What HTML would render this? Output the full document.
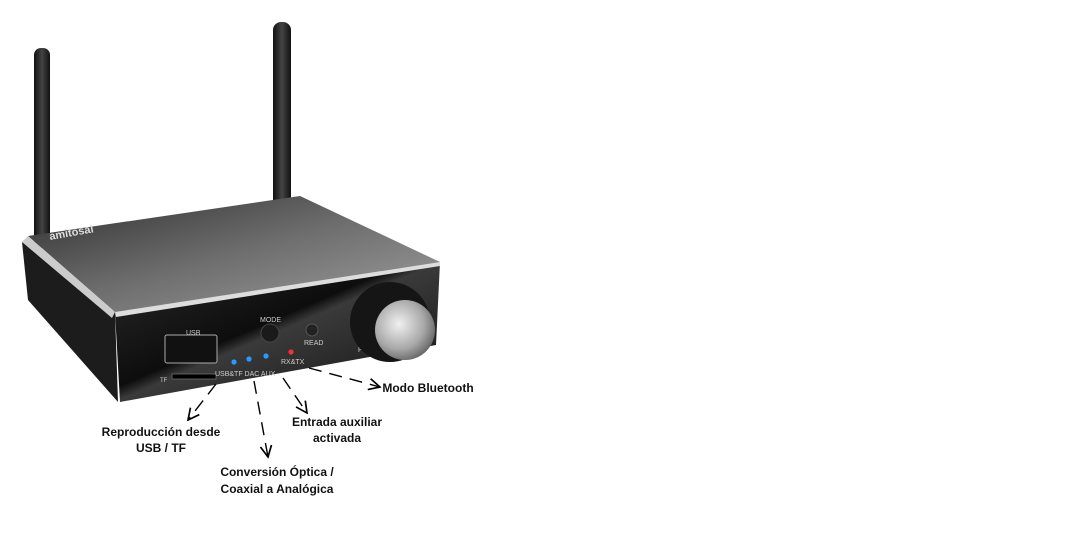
<!DOCTYPE html>
<html><head><meta charset="utf-8"><style>
html,body{margin:0;padding:0;background:#fff;width:1080px;height:540px;overflow:hidden}
svg{position:absolute;left:0;top:0}
text{font-family:"Liberation Sans",sans-serif}
</style></head><body>
<svg width="1080" height="540" viewBox="0 0 1080 540">
<defs>
<linearGradient id="top" x1="0" y1="0" x2="1" y2="1">
<stop offset="0" stop-color="#2e2e2e"/><stop offset="0.5" stop-color="#6e6e6e"/><stop offset="1" stop-color="#a0a0a0"/></linearGradient>
<linearGradient id="front" x1="0" y1="0" x2="1" y2="1">
<stop offset="0" stop-color="#2a2a2a"/><stop offset="0.45" stop-color="#0d0d0d"/><stop offset="0.5" stop-color="#3a3a3a"/><stop offset="1" stop-color="#111"/></linearGradient>
<linearGradient id="ant" x1="0" y1="0" x2="1" y2="0">
<stop offset="0" stop-color="#111"/><stop offset="0.5" stop-color="#444"/><stop offset="1" stop-color="#111"/></linearGradient>
<radialGradient id="knob" cx="0.4" cy="0.4" r="0.7">
<stop offset="0" stop-color="#f0f0f0"/><stop offset="0.6" stop-color="#a8a8a8"/><stop offset="1" stop-color="#555"/></radialGradient>
<marker id="ah" viewBox="0 0 10 10" refX="9" refY="5" markerWidth="10" markerHeight="10" orient="auto">
<path d="M1,1 L9,5 L1,9" fill="none" stroke="#000" stroke-width="1.2"/></marker>
</defs>
<rect x="34" y="48" width="16" height="200" rx="7" fill="url(#ant)"/>
<rect x="273" y="22" width="18" height="190" rx="8" fill="url(#ant)"/>
<polygon points="22,242 115,312 118,402 28,300" fill="#1c1c1c"/>
<polygon points="28,236 300,196 440,262 115,312" fill="url(#top)"/>
<polygon points="22,242 28,236 115,312 112,318" fill="#ccc"/>
<polygon points="115,312 440,262 436,345 120,402" fill="url(#front)"/>
<polygon points="115,312 440,262 440,266 116,317" fill="#ddd"/>
<text x="50" y="240" fill="#ddd" font-size="11" font-weight="bold" transform="rotate(-10 50 240)">amitosai</text>
<rect x="165" y="335" width="52" height="28" rx="2" fill="#111" stroke="#aaa" stroke-width="1"/>
<text x="186" y="335" fill="#ccc" font-size="7">USB</text>
<rect x="172" y="374" width="44" height="5" fill="#000" stroke="#777" stroke-width="0.7"/>
<text x="160" y="382" fill="#ccc" font-size="6">TF</text>
<circle cx="234" cy="362" r="2.6" fill="#2a9aff"/>
<circle cx="249" cy="359" r="2.6" fill="#2a9aff"/>
<circle cx="266" cy="356" r="2.6" fill="#2a9aff"/>
<circle cx="291" cy="352" r="2.6" fill="#ff2a3a"/>
<text x="215" y="376" fill="#ccc" font-size="7">USB&amp;TF DAC AUX</text>
<text x="281" y="364" fill="#ccc" font-size="7">RX&amp;TX</text>
<circle cx="270" cy="333" r="9" fill="#1a1a1a" stroke="#444"/>
<text x="260" y="322" fill="#ccc" font-size="7">MODE</text>
<circle cx="312" cy="330" r="6" fill="#222" stroke="#555"/>
<text x="304" y="345" fill="#ccc" font-size="7">READ</text>
<text x="358" y="352" fill="#ccc" font-size="7">PO</text>
<circle cx="390" cy="322" r="40" fill="#151515"/>
<circle cx="405" cy="330" r="30" fill="url(#knob)"/>
<g stroke="#000" stroke-width="1.4" fill="none" stroke-dasharray="13,8" marker-end="url(#ah)">
<line x1="216" y1="384" x2="188" y2="420"/>
<line x1="254" y1="381" x2="268" y2="457"/>
<line x1="283" y1="378" x2="307" y2="413"/>
<line x1="309" y1="368" x2="380" y2="387"/>
</g>
<g font-size="12" font-weight="bold" fill="#111" text-anchor="middle">
<text x="161" y="436">Reproducción desde</text>
<text x="161" y="452">USB / TF</text>
<text x="277" y="476">Conversión Óptica /</text>
<text x="277" y="493">Coaxial a Analógica</text>
<text x="337" y="426">Entrada auxiliar</text>
<text x="337" y="442">activada</text>
<text x="428" y="392">Modo Bluetooth</text>
</g>
</svg>
</body></html>
